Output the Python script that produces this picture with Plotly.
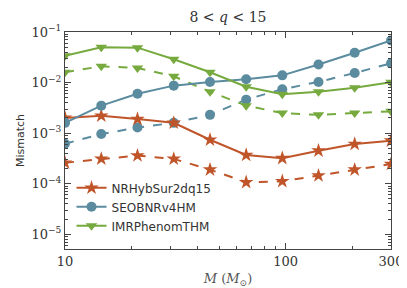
import plotly.graph_objects as go

mass = [10, 14.6, 21.3, 31.1, 45.4, 66.2, 96.5, 140.8, 205.4, 300]

nrhyb_solid = [0.0020, 0.0022, 0.0019, 0.0016, 0.00074, 0.00037, 0.00032, 0.00045, 0.00061, 0.00071]
nrhyb_dash = [0.00026, 0.00031, 0.00036, 0.00031, 0.00019, 0.000107, 0.000112, 0.000145, 0.00019, 0.000245]
seob_solid = [0.0016, 0.0035, 0.0060, 0.0087, 0.0103, 0.0116, 0.0139, 0.0228, 0.039, 0.068]
seob_dash = [0.00062, 0.00096, 0.00129, 0.0016, 0.0023, 0.0046, 0.0074, 0.0103, 0.0155, 0.024]
phen_solid = [0.034, 0.050, 0.049, 0.029, 0.016, 0.0083, 0.0059, 0.0066, 0.0079, 0.0102]
phen_dash = [0.016, 0.021, 0.0195, 0.0133, 0.0066, 0.0035, 0.0025, 0.0023, 0.0025, 0.0027]

names = ["NRHybSur2dq15", "SEOBNRv4HM", "IMRPhenomTHM"]
colors = ["#c0552a", "#5b8b9f", "#76aa3e"]
symbols = ["star", "circle", "triangle-down"]
solids = [nrhyb_solid, seob_solid, phen_solid]
dashes = [nrhyb_dash, seob_dash, phen_dash]
msizes = [11, 10, 10]

x_tickvals = [10, 100, 300]
x_ticktext = ["10", "100", "300"]
x_minor = [20, 30, 40, 50, 60, 70, 80, 90, 200]
y_tickvals = [1e-1, 1e-2, 1e-3, 1e-4, 1e-5]
y_ticktext = ["10<sup>−1</sup>", "10<sup>−2</sup>", "10<sup>−3</sup>", "10<sup>−4</sup>", "10<sup>−5</sup>"]
y_minor = [m * 10.0 ** e for e in (-6, -5, -4, -3, -2) for m in (2, 3, 4, 5, 6, 7, 8, 9)]

fig = go.Figure()
for name, c, s, ys, yd, ms in zip(names, colors, symbols, solids, dashes, msizes):
    fig.add_trace(go.Scatter(x=mass, y=yd, mode="lines+markers", showlegend=False,
                             line=dict(color=c, width=2, dash="dash"),
                             marker=dict(symbol=s, size=ms, color=c)))
for name, c, s, ys, yd, ms in zip(names, colors, symbols, solids, dashes, msizes):
    fig.add_trace(go.Scatter(x=mass, y=ys, mode="lines+markers", name=name,
                             line=dict(color=c, width=2),
                             marker=dict(symbol=s, size=ms, color=c)))

axis_common = dict(
    type="log", showgrid=False, zeroline=False, showline=True, linecolor="#444",
    linewidth=1, mirror="allticks", ticks="inside", ticklen=6, tickcolor="#444",
    tickfont=dict(family="DejaVu Serif", size=13, color="#333"),
)
fig.update_xaxes(range=[1, 2.4771], tickmode="array", tickvals=x_tickvals, ticktext=x_ticktext,
                 minor=dict(tickmode="array", tickvals=x_minor, ticks="inside", ticklen=3,
                            tickcolor="#444", showgrid=False),
                 title=dict(text="<i>M</i> (<i>M</i><sub>⊙</sub>)", standoff=6,
                            font=dict(family="DejaVu Serif", size=13, color="#555")),
                 **axis_common)
fig.update_yaxes(range=[-5.29, -1], tickmode="array", tickvals=y_tickvals, ticktext=y_ticktext,
                 minor=dict(tickmode="array", tickvals=y_minor, ticks="inside", ticklen=3,
                            tickcolor="#444", showgrid=False),
                 title=dict(text="Mismatch", standoff=4,
                            font=dict(family="DejaVu Sans", size=11, color="#333")),
                 **axis_common)

fig.update_layout(
    width=407, height=288,
    margin=dict(l=53, r=18, t=24, b=42),
    plot_bgcolor="white", paper_bgcolor="white",
    title=dict(text="8 &lt; <i>q</i> &lt; 15", x=0.5, xanchor="center", y=0.985, yanchor="top",
               xref="paper", font=dict(family="DejaVu Serif", size=14, color="#333")),
    legend=dict(x=0.02, y=0.04, xanchor="left", yanchor="bottom", bgcolor="rgba(0,0,0,0)",
                font=dict(family="DejaVu Sans", size=12, color="#333"), tracegroupgap=2),
)

fig.write_html("out.html")
